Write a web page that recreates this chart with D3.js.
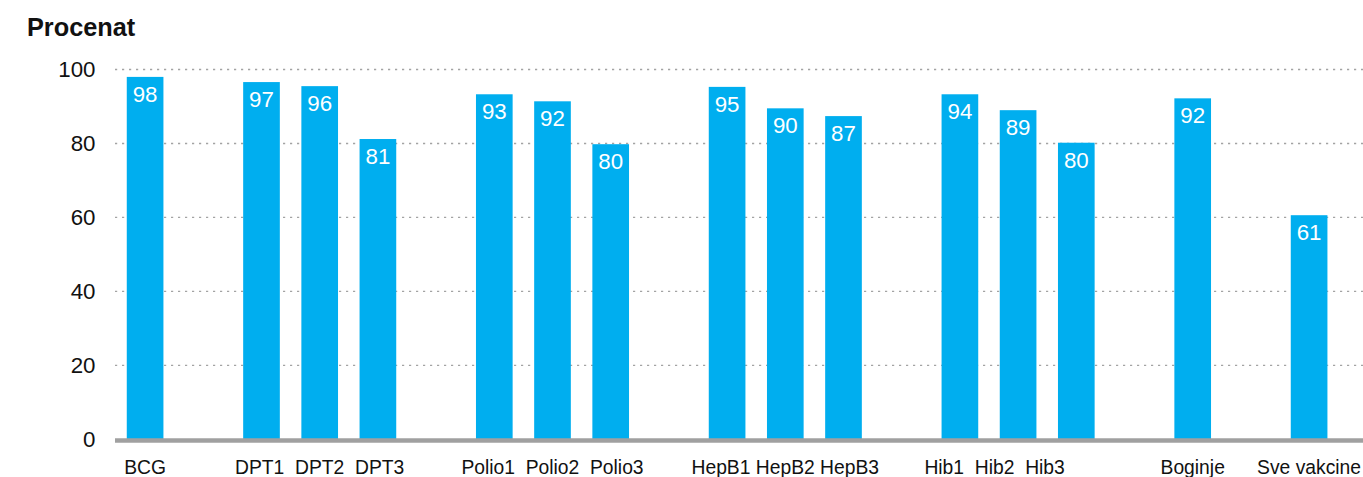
<!DOCTYPE html>
<html>
<head>
<meta charset="utf-8">
<script src="https://cdn.jsdelivr.net/npm/d3@7"></script>
<style>
  html, body { margin: 0; padding: 0; background: #fff; }
  svg { display: block; font-family: "Liberation Sans", Arial, sans-serif; }
</style>
</head>
<body>
<svg id="chart" width="1363" height="477"></svg>
<script>
// ---- Data ----
const groups = [
  ["BCG"],
  ["DPT1", "DPT2", "DPT3"],
  ["Polio1", "Polio2", "Polio3"],
  ["HepB1", "HepB2", "HepB3"],
  ["Hib1", "Hib2", "Hib3"],
  ["Boginje"],
  ["Sve vakcine"]
];
// category text as printed under each group (one text line per group)
const groupLabels = ["BCG", "DPT1  DPT2  DPT3", "Polio1  Polio2  Polio3", "HepB1 HepB2 HepB3", "Hib1  Hib2  Hib3", "Boginje", "Sve vakcine"];
const categories = ["BCG","DPT1","DPT2","DPT3","Polio1","Polio2","Polio3","HepB1","HepB2","HepB3","Hib1","Hib2","Hib3","Boginje","Sve vakcine"];
const values = [98.0, 96.6, 95.5, 81.2, 93.3, 91.4, 79.8, 95.3, 89.5, 87.4, 93.3, 89.0, 80.2, 92.2, 60.6];
const valueLabels = ["98","97","96","81","93","92","80","95","90","87","94","89","80","92","61"];
const yTicks = [0, 20, 40, 60, 80, 100];
const yTitle = "Procenat";

// ---- Build slots (a blank slot between groups) ----
const slots = [];
groups.forEach((g, i) => {
  if (i > 0) slots.push("__gap" + i);
  g.forEach(c => slots.push(c));
});

const data = categories.map((c, i) => ({ cat: c, value: values[i], label: valueLabels[i] }));

const svg = d3.select("#chart");

const x = d3.scaleBand()
  .domain(slots)
  .range([116, 116 + 21 * 58.2])
  .paddingInner(0.37)
  .paddingOuter(0.185);

const y = d3.scaleLinear().domain([0, 100]).range([439.3, 69.5]);

// Gridlines
svg.append("g")
  .selectAll("line")
  .data(yTicks.filter(t => t > 0))
  .join("line")
  .attr("x1", 115).attr("x2", 1363)
  .attr("y1", d => y(d)).attr("y2", d => y(d))
  .attr("stroke", "#a3a3a3")
  .attr("stroke-width", 1.4)
  .attr("stroke-dasharray", "2.2,4.8");

// Y axis labels
const yAxis = d3.axisLeft(y).tickValues(yTicks).tickSize(0).tickPadding(0);
const gy = svg.append("g").attr("transform", "translate(95.5,0)").call(yAxis);
gy.select(".domain").remove();
gy.selectAll("text")
  .attr("font-size", 22.3)
  .attr("fill", "#111")
  .attr("font-family", "Liberation Sans, Arial, sans-serif");

// Bars
svg.append("g")
  .selectAll("rect")
  .data(data)
  .join("rect")
  .attr("x", d => x(d.cat))
  .attr("width", x.bandwidth())
  .attr("y", d => y(d.value))
  .attr("height", d => y(0) - y(d.value))
  .attr("fill", "#00AEEF");

// Value labels
svg.append("g")
  .selectAll("text")
  .data(data)
  .join("text")
  .attr("x", d => x(d.cat) + x.bandwidth() / 2)
  .attr("y", d => y(d.value) + 25)
  .attr("text-anchor", "middle")
  .attr("font-size", 22.3)
  .attr("fill", "#fff")
  .text(d => d.label);

// X axis line
svg.append("line")
  .attr("x1", 115).attr("x2", 1363)
  .attr("y1", y(0) + 1.2).attr("y2", y(0) + 1.2)
  .attr("stroke", "#a0a0a0")
  .attr("stroke-width", 4.5);

// X category labels: one line per group, centred under the group
const groupShift = { 4: -23.5 }; // Hib label line sits left of its bars in the original
svg.append("g")
  .selectAll("text")
  .data(groups.map((g, i) => ({ g, i, text: groupLabels[i] })))
  .join("text")
  .attr("x", d => {
    const first = x(d.g[0]);
    const last = x(d.g[d.g.length - 1]) + x.bandwidth();
    return (first + last) / 2 + (groupShift[d.i] || 0);
  })
  .attr("y", 474)
  .attr("text-anchor", "middle")
  .attr("font-size", 19.3)
  .attr("fill", "#111")
  .style("white-space", "pre")
  .attr("xml:space", "preserve")
  .text(d => d.text);

// Title
svg.append("text")
  .attr("x", 27).attr("y", 36)
  .attr("font-size", 25.3)
  .attr("font-weight", "bold")
  .attr("fill", "#111")
  .text(yTitle);
</script>
</body>
</html>
